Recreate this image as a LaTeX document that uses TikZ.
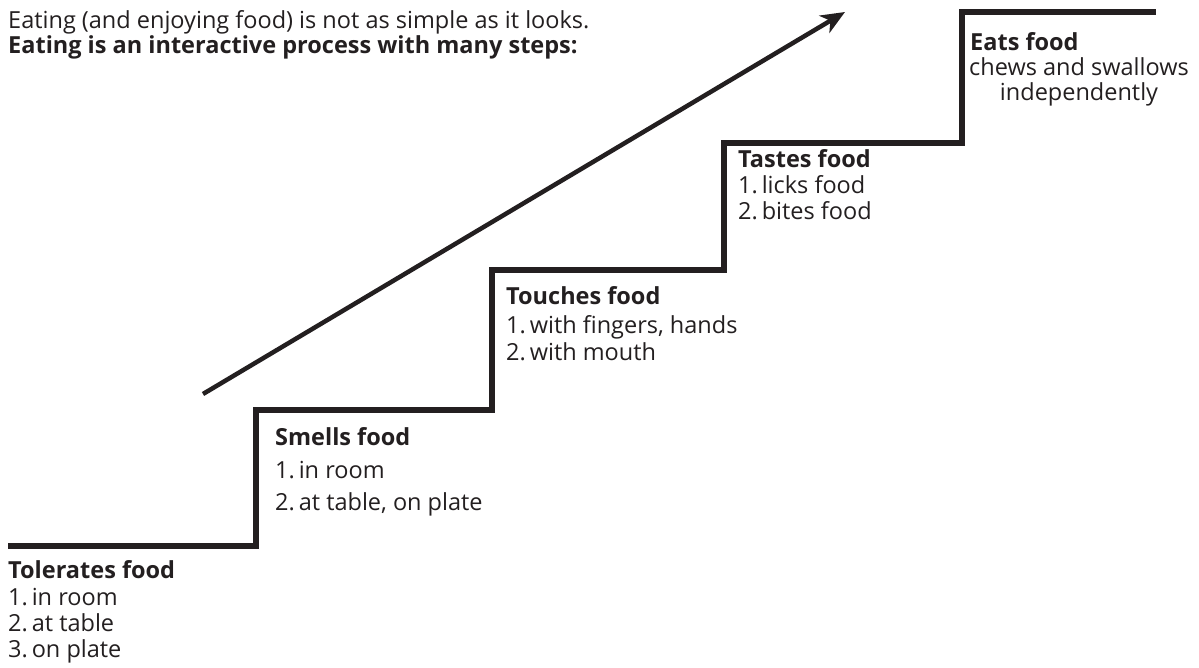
\documentclass[tikz,border=0pt]{standalone}
\usepackage{fontspec}
\setmainfont{Open Sans}
\usetikzlibrary{arrows.meta}
\definecolor{ink}{HTML}{231F20}
\tikzset{
  stair/.style={line width=5.5pt, draw=ink, line join=miter, line cap=butt},
  rise/.style={line width=4.5pt, draw=ink, -{Stealth[length=24pt,width=20pt,inset=7pt]}},
  title/.style={anchor=base west, inner sep=0pt, text=ink, font=\fontsize{23.5}{26}\selectfont\bfseries},
  body/.style={anchor=base west, inner sep=0pt, text=ink, font=\fontsize{23.5}{26}\selectfont},
}
\begin{document}
\begin{tikzpicture}[x=1pt,y=-1pt]
\useasboundingbox (0,0) rectangle (1199,668);
% staircase corners
\coordinate (s0) at (8,546);
\coordinate (s1) at (256,546);
\coordinate (s2) at (256,410);
\coordinate (s3) at (492,410);
\coordinate (s4) at (492,270);
\coordinate (s5) at (724,270);
\coordinate (s6) at (724,143);
\coordinate (s7) at (962,143);
\coordinate (s8) at (962,12);
\coordinate (s9) at (1156,12);
\draw[stair] (s0) -- (s1) -- (s2) -- (s3) -- (s4) -- (s5) -- (s6) -- (s7) -- (s8) -- (s9);
% arrow
\coordinate (a0) at (203,394);
\coordinate (a1) at (845,12);
\draw[rise] (a0) -- (a1);
% header
\node[body] (h1) at (8,29) {Eating (and enjoying food) is not as simple as it looks.};
\node[title] (h2) at (8,54) {Eating is an interactive process with many steps:};
% step 1
\node[title] (t1) at (8,578) {Tolerates food};
\node[body] (b11) at (8,605) {1.\,in room};
\node[body] (b12) at (8,631) {2.\,at table};
\node[body] (b13) at (8,657) {3.\,on plate};
% step 2
\node[title] (t2) at (275,445) {Smells food};
\node[body] (b21) at (275,478) {1.\,in room};
\node[body] (b22) at (275,510) {2.\,at table, on plate};
% step 3
\node[title] (t3) at (506,305) {Touches food};
\node[body] (b31) at (506,333) {1.\,with fingers, hands};
\node[body] (b32) at (506,360) {2.\,with mouth};
% step 4
\node[title] (t4) at (738,168) {Tastes food};
\node[body] (b41) at (738,194) {1.\,licks food};
\node[body] (b42) at (738,220) {2.\,bites food};
% step 5
\node[title] (t5) at (970,51) {Eats food};
\node[body] (b51) at (969,76) {chews and swallows};
\node[body, anchor=base] (b52) at (b51.base |- 0,101) {independently};
\end{tikzpicture}
\end{document}
